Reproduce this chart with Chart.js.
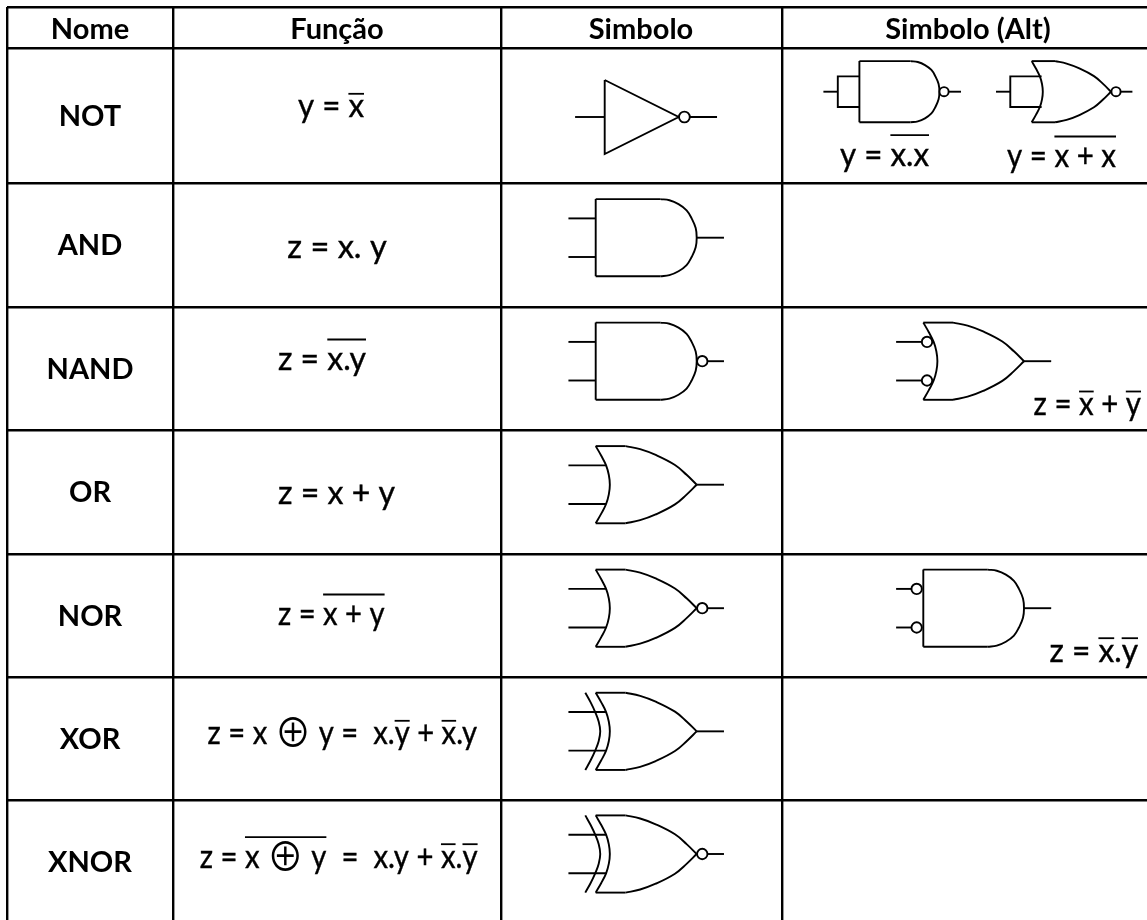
<!DOCTYPE html>
<html>
<head>
<meta charset="utf-8">
<title>Portas lógicas</title>
<script src="https://cdn.jsdelivr.net/npm/chart.js@4"></script>
<style>
	html, body { margin: 0; padding: 0; background: #fff; }
	canvas { display: block; }
</style>
</head>
<body>
<canvas id="chart" width="1147" height="920"></canvas>
<script>
// Table content
const columnTitles = ['Nome', 'Função', 'Simbolo', 'Simbolo (Alt)']
const gateNames = ['NOT', 'AND', 'NAND', 'OR', 'NOR', 'XOR', 'XNOR']
// [..] is a short overbar, {..} a long one
const gateFormulas = [
	'y = [x]',
	'z = x. y',
	'z = {x.y}',
	'z = x + y',
	'z = {x + y}',
	'z = x ⊕ y =  x.[y] + [x].y',
	'z = {x ⊕ y}  =  x.y + [x].[y]',
]
const altFormulas = ['y = {x.x}', 'y = {x + x}', 'z = [x] + [y]', 'z = [x].[y]']

// Table frame, in scale units
const columnEdges = [7, 173, 500.7, 782]
const rowEdges = [7, 47.7, 182.7, 306.7, 429.7, 553.7, 676.7, 800]

// Text spots: start x, end x, baseline
const formulaSpots = [
	[298, 364, 117.3],
	[287.3, 386.7, 257.7],
	[278, 366, 370],
	[278, 395, 504.3],
	[278, 384.6, 625],
	[207.6, 477, 744.3],
	[199.7, 477.6, 867.7],
]
const altSpots = [
	[840, 929, 165.7],
	[1007, 1116, 167],
	[1033.6, 1141, 415],
	[1049.5, 1138, 661.7],
]

// Gate outlines, in gate units: body is 0..1 wide and -1..1 tall
const andTop = [[0, -1], [0.64, -1]]
const andBottom = [[0, 1], [0.64, 1]]
const andLeft = [[0, -1], [0, 1]]
const andArc = [[0.64, -1], [0.73, -0.97], [0.82, -0.87], [0.9, -0.71], [0.95, -0.5], [0.99, -0.25], [1, 0],
	[0.99, 0.25], [0.95, 0.5], [0.9, 0.71], [0.82, 0.87], [0.73, 0.97], [0.64, 1]]
const orBack = [[0, -1], [0.055, -0.75], [0.103, -0.5], [0.13, -0.25], [0.14, 0],
	[0.13, 0.25], [0.103, 0.5], [0.055, 0.75], [0, 1]]
const xorBack = [[-0.103, -1], [-0.05, -0.75], [-0.005, -0.5], [0.03, -0.25], [0.045, 0],
	[0.03, 0.25], [-0.005, 0.5], [-0.05, 0.75], [-0.103, 1]]
const orTop = [[0, -1], [0.295, -1]]
const orBottom = [[0, 1], [0.295, 1]]
const orFrontUpper = [[0.295, -1], [0.44, -0.92], [0.594, -0.77], [0.785, -0.51], [0.9, -0.256], [1, 0]]
const orFrontLower = [[1, 0], [0.9, 0.256], [0.785, 0.51], [0.594, 0.77], [0.44, 0.92], [0.295, 1]]
const triangle = [[0, -1], [1, 0], [0, 1], [0, -1]]

const datasets = []

function place(points, gate) {
	return points.map(p => ({ x: gate.x + p[0] * gate.w, y: gate.mid + p[1] * gate.h }))
}

function addLine(points, gate, tension) {
	datasets.push({
		data: place(points, gate),
		showLine: true,
		borderColor: '#000',
		borderWidth: 1.9,
		pointRadius: 0,
		tension: tension || 0,
		order: 1,
		clip: false,
	})
}

function addBubble(u, v, gate, radius) {
	datasets.push({
		data: place([[u, v]], gate),
		pointRadius: radius,
		pointStyle: 'circle',
		backgroundColor: '#fff',
		borderColor: '#000',
		borderWidth: 1.9,
		order: 0,
		clip: false,
	})
}

function addAndBody(gate) {
	addLine(andLeft, gate)
	addLine(andTop, gate)
	addLine(andBottom, gate)
	addLine(andArc, gate, 0.4)
	addLine([[1, 0], [1.27, 0]], gate)
}

function addOrBody(gate) {
	addLine(orBack, gate, 0.4)
	addLine(orTop, gate)
	addLine(orBottom, gate)
	addLine(orFrontUpper, gate, 0.4)
	addLine(orFrontLower, gate, 0.4)
	addLine([[1, 0], [1.27, 0]], gate)
}

function addInputs(gate, endU) {
	addLine([[-0.27, -0.5], [endU, -0.5]], gate)
	addLine([[-0.27, 0.5], [endU, 0.5]], gate)
}

function addTiedInput(gate, endU) {
	addLine([[endU, -0.5], [-0.27, -0.5], [-0.27, 0.5], [endU, 0.5]], gate)
	addLine([[-0.45, 0], [-0.27, 0]], gate)
}

// Gate mid line sits a little above the middle of its row
function rowMid(row) {
	return (rowEdges[row + 1] + (rowEdges[row + 2] || 922)) / 2 - 7
}

const SYMBOL_X = 595.7
const ALT_X = 923.3

function symbolGate(row) {
	return { x: SYMBOL_X, mid: rowMid(row), w: 101, h: 38.6 }
}

function altGate(row) {
	return { x: ALT_X, mid: rowMid(row), w: 100.7, h: 38.6 }
}

// Simbolo column
const notGate = { x: 604.7, mid: 117, w: 74, h: 37 }
addLine(triangle, notGate)
addLine([[-0.4, 0], [0, 0]], notGate)
addLine([[1, 0], [1.518, 0]], notGate)
addBubble(1.077, 0, notGate, 5.4)

addAndBody(symbolGate(1))
addInputs(symbolGate(1), 0)

addAndBody(symbolGate(2))
addInputs(symbolGate(2), 0)
addBubble(1.055, 0, symbolGate(2), 5.2)

addOrBody(symbolGate(3))
addInputs(symbolGate(3), 0.103)

addOrBody(symbolGate(4))
addInputs(symbolGate(4), 0.103)
addBubble(1.055, 0, symbolGate(4), 5.2)

addOrBody(symbolGate(5))
addInputs(symbolGate(5), 0.103)
addLine(xorBack, symbolGate(5), 0.4)

addOrBody(symbolGate(6))
addInputs(symbolGate(6), 0.103)
addLine(xorBack, symbolGate(6), 0.4)
addBubble(1.055, 0, symbolGate(6), 5.2)

// Simbolo (Alt) column
const tiedNand = { x: 859.4, mid: 91.7, w: 80, h: 30.6 }
addAndBody(tiedNand)
addTiedInput(tiedNand, 0)
addBubble(1.058, 0, tiedNand, 4.6)

const tiedNor = { x: 1031.7, mid: 91.7, w: 79.3, h: 30.6 }
addOrBody(tiedNor)
addTiedInput(tiedNor, 0.125)
addBubble(1.063, 0, tiedNor, 4.6)

addOrBody(altGate(2))
addInputs(altGate(2), 0.04)
addBubble(0.037, -0.5, altGate(2), 5.2)
addBubble(0.037, 0.5, altGate(2), 5.2)

addAndBody(altGate(4))
addInputs(altGate(4), -0.066)
addBubble(-0.066, -0.5, altGate(4), 5.2)
addBubble(-0.066, 0.5, altGate(4), 5.2)

// Text

let barCount = 0

function splitToken(raw) {
	let bar = 0
	let text = raw
	if (raw[0] === '[') {
		bar = 23.5
		text = raw.slice(1, -1)
	} else if (raw[0] === '{') {
		bar = 30.5
		text = raw.slice(1, -1)
	}
	const barId = barCount++
	return text.split(/(⊕)/).filter(Boolean).map(part => ({
		text: part,
		bar,
		barId,
		font: part === '⊕' ? '40px "Noto Sans CJK SC"' : '32px Lato',
	}))
}

function tokenWidth(ctx, token) {
	ctx.font = token.font
	return ctx.measureText(token.text).width
}

function drawFormula(ctx, scales, formula, spot) {
	const tokens = formula.match(/\[.*?\]|\{.*?\}|[^\[\{]+/g).flatMap(splitToken)
	const [startX, endX, baseline] = spot
	const width = tokens.reduce((sum, t) => sum + tokenWidth(ctx, t), 0)
	const left = scales.x.getPixelForValue(startX)
	const stretch = (scales.x.getPixelForValue(endX) - left) / width

	ctx.save()
	ctx.translate(left, scales.y.getPixelForValue(baseline))
	ctx.scale(stretch, 1)
	ctx.textAlign = 'left'
	ctx.strokeStyle = '#000'
	let x = 0
	const bars = {}
	for (const t of tokens) {
		ctx.font = t.font
		const isPlus = t.text === '⊕'
		ctx.fillText(t.text, x, isPlus ? 3 : 0)
		if (!isPlus) {
			ctx.lineWidth = 0.4
			ctx.strokeText(t.text, x, 0)
		}
		const w = ctx.measureText(t.text).width
		if (t.bar) {
			if (!bars[t.barId]) {
				bars[t.barId] = { from: x, up: t.bar }
			}
			bars[t.barId].to = x + w
		}
		x += w
	}
	ctx.lineWidth = 1.8
	for (const key in bars) {
		const b = bars[key]
		ctx.beginPath()
		ctx.moveTo(b.from, -b.up)
		ctx.lineTo(b.to, -b.up)
		ctx.stroke()
	}
	ctx.restore()
}

const tablePlugin = {
	id: 'tableText',
	afterDraw(chart) {
		const { ctx, scales } = chart
		ctx.save()
		ctx.fillStyle = '#000'
		ctx.textBaseline = 'alphabetic'

		ctx.textAlign = 'center'
		ctx.font = 'bold 29px Lato'
		const headerCenters = [90, 337, 641, 968]
		columnTitles.forEach((title, i) => {
			ctx.fillText(title, scales.x.getPixelForValue(headerCenters[i]), scales.y.getPixelForValue(39.3))
		})
		gateNames.forEach((name, i) => {
			const center = (rowEdges[i + 1] + (rowEdges[i + 2] || 922)) / 2
			ctx.fillText(name, scales.x.getPixelForValue(90), scales.y.getPixelForValue(center + 10.5))
		})

		gateFormulas.forEach((f, i) => drawFormula(ctx, scales, f, formulaSpots[i]))
		altFormulas.forEach((f, i) => drawFormula(ctx, scales, f, altSpots[i]))
		ctx.restore()
	},
}

const gridStyle = {
	color: '#000',
	lineWidth: 2.4,
	drawTicks: false,
}

new Chart(document.getElementById('chart'), {
	type: 'scatter',
	data: { datasets },
	plugins: [tablePlugin],
	options: {
		responsive: false,
		animation: false,
		layout: { autoPadding: false, padding: { left: 7, top: 7, right: 0, bottom: 0 } },
		plugins: { legend: { display: false }, tooltip: { enabled: false } },
		scales: {
			x: {
				type: 'linear',
				min: 7,
				max: 1147,
				grid: gridStyle,
				border: { display: false },
				ticks: { display: false, autoSkip: false },
				afterBuildTicks(scale) {
					scale.ticks = columnEdges.map(value => ({ value }))
				},
			},
			y: {
				type: 'linear',
				reverse: true,
				min: 7,
				max: 920,
				grid: gridStyle,
				border: { display: false },
				ticks: { display: false, autoSkip: false },
				afterBuildTicks(scale) {
					scale.ticks = rowEdges.map(value => ({ value }))
				},
			},
		},
	},
})
</script>
</body>
</html>
